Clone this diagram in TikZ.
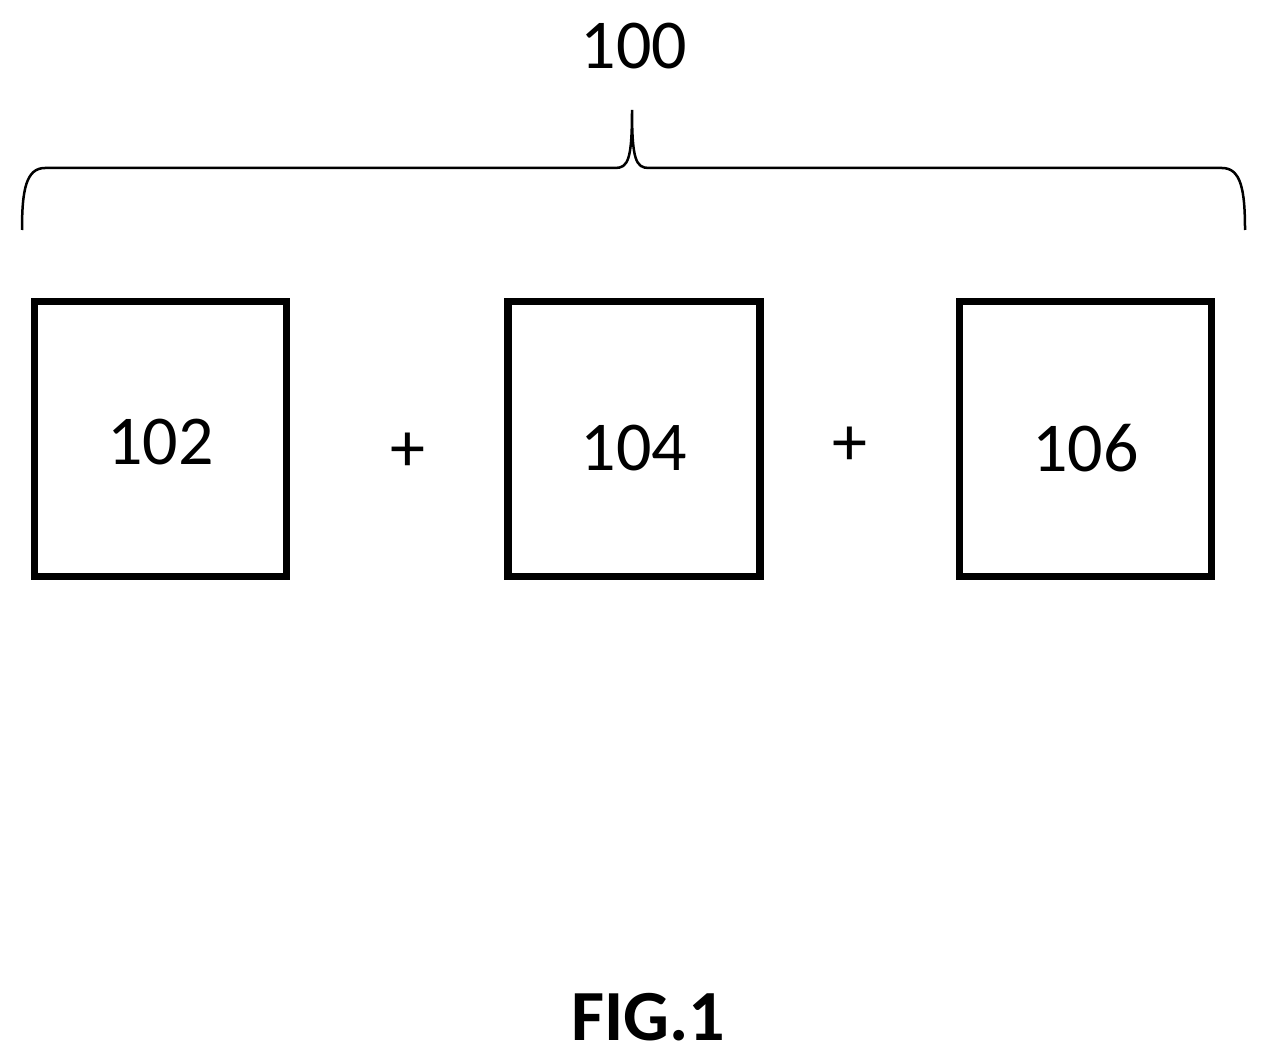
\documentclass[tikz,border=0pt]{standalone}
\usepackage{fontspec}
\setmainfont{Carlito}
\begin{document}
\begin{tikzpicture}[x=1pt,y=-1pt,
  blk/.style={draw,line width=7.5pt,minimum width=252pt,minimum height=275pt,inner sep=0pt},
  lbl/.style={font=\fontsize{70}{80}\selectfont,inner sep=0pt}]
\useasboundingbox (0,0) rectangle (1268,1059);
\node[blk] (b1) at (160.5,439) {};
\node[blk] (b2) at (634,439) {};
\node[blk] (b3) at (1085.5,439) {};
\node[lbl] (l1) at (160.5,442) {102};
\node[lbl] (l2) at (634,448) {104};
\node[lbl] (l3) at (1085.5,448) {106};
\node[lbl] (p1) at (408,452) {+};
\node[lbl] (p2) at (850,446) {+};
\node[lbl] (t) at (634,46) {100};
\node[lbl,font=\bfseries\fontsize{72}{80}\selectfont] (f) at (648,1017) {FIG.1};
\draw[line width=2.5pt] (22,230) .. controls (22,190) and (26,168) .. (45,168)
  -- (615,168) .. controls (628,168) and (632,160) .. (632,110)
  .. controls (632,160) and (636,168) .. (649,168)
  -- (1222,168) .. controls (1241,168) and (1245,190) .. (1245,230);
\end{tikzpicture}
\end{document}
